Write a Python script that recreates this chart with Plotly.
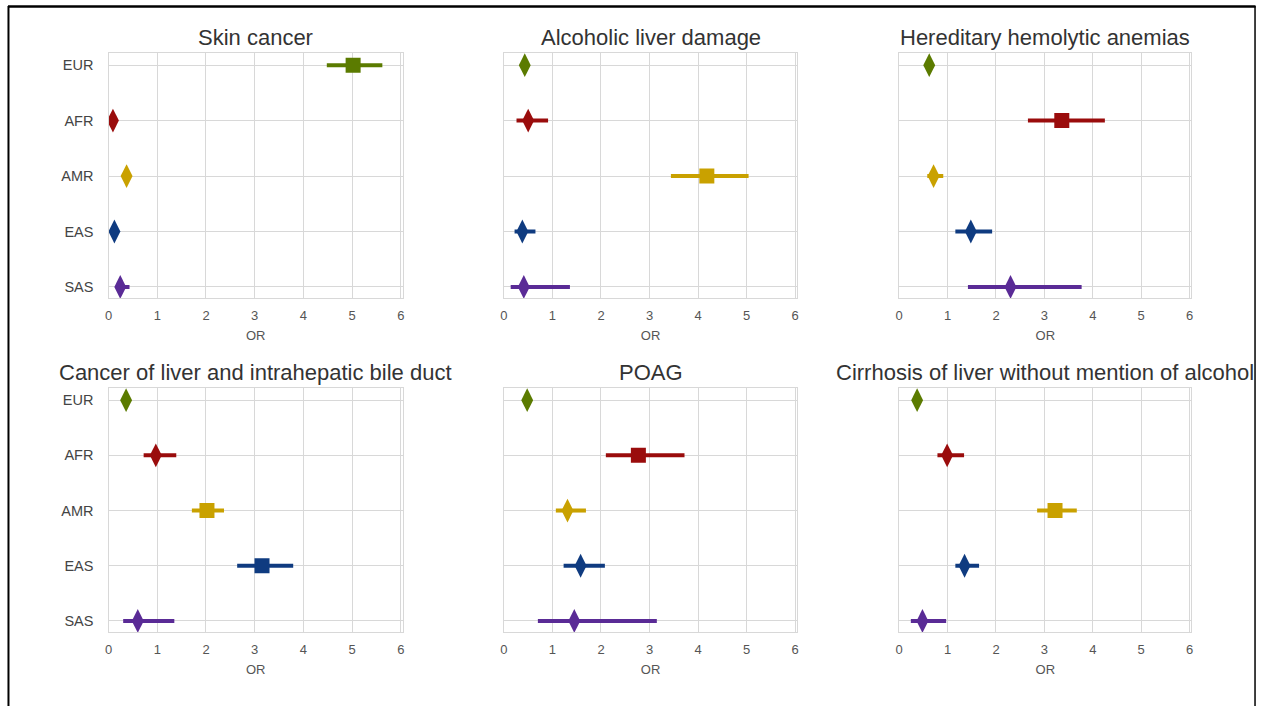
import plotly.graph_objects as go

populations = ["EUR", "AFR", "AMR", "EAS", "SAS"]
pop_colors = ["#5b7b00", "#9a0c0c", "#c9a100", "#0f3b80", "#5a2b96"]

titles = [
    "Skin cancer",
    "Alcoholic liver damage",
    "Hereditary hemolytic anemias",
    "Cancer of liver and intrahepatic bile duct",
    "POAG",
    "Cirrhosis of liver without mention of alcohol",
]

skin_or = [5.02, 0.09, 0.37, 0.12, 0.24]
skin_lo = [4.48, 0.07, 0.33, 0.09, 0.17]
skin_hi = [5.62, 0.12, 0.42, 0.16, 0.43]
skin_sig = [True, False, False, False, False]

alc_or = [0.43, 0.50, 4.18, 0.38, 0.41]
alc_lo = [0.40, 0.26, 3.44, 0.22, 0.14]
alc_hi = [0.46, 0.91, 5.04, 0.65, 1.36]
alc_sig = [False, False, True, False, False]

hem_or = [0.62, 3.36, 0.71, 1.48, 2.30]
hem_lo = [0.58, 2.66, 0.58, 1.16, 1.42]
hem_hi = [0.66, 4.25, 0.91, 1.92, 3.77]
hem_sig = [False, True, False, False, False]

livc_or = [0.36, 0.97, 2.02, 3.15, 0.60]
livc_lo = [0.32, 0.72, 1.71, 2.64, 0.30]
livc_hi = [0.40, 1.39, 2.37, 3.79, 1.35]
livc_sig = [False, False, True, True, False]

poag_or = [0.48, 2.77, 1.31, 1.58, 1.45]
poag_lo = [0.44, 2.10, 1.07, 1.23, 0.70]
poag_hi = [0.52, 3.72, 1.69, 2.08, 3.15]
poag_sig = [False, True, False, False, False]

cirr_or = [0.37, 0.99, 3.22, 1.35, 0.48]
cirr_lo = [0.33, 0.79, 2.85, 1.16, 0.24]
cirr_hi = [0.41, 1.34, 3.67, 1.65, 0.97]
cirr_sig = [False, False, True, False, False]

x_ticks = [0, 1, 2, 3, 4, 5, 6]

panels = [
    (skin_or, skin_lo, skin_hi, skin_sig),
    (alc_or, alc_lo, alc_hi, alc_sig),
    (hem_or, hem_lo, hem_hi, hem_sig),
    (livc_or, livc_lo, livc_hi, livc_sig),
    (poag_or, poag_lo, poag_hi, poag_sig),
    (cirr_or, cirr_lo, cirr_hi, cirr_sig),
]

W, H = 1261, 706
SX = 1.0 / 0.9944  # horizontal compensation about the page centre


def px(x):
    return (W / 2 + (x - W / 2) * SX) / W


col_px = [(108, 402), (503, 796), (898, 1190)]
row_px = [(53, 298), (388, 632)]

fig = go.Figure()
layout = dict(
    width=W, height=H, margin=dict(l=0, r=0, t=0, b=0),
    paper_bgcolor="white", plot_bgcolor="white", showlegend=False,
    font=dict(family="Liberation Sans, Arial, sans-serif", color="#444"),
)
annotations = []
grid = "#d8d8d8"

for i, (vals, lo, hi, sig) in enumerate(panels):
    r, c = divmod(i, 3)
    n = i + 1
    xa = "x" if n == 1 else f"x{n}"
    ya = "y" if n == 1 else f"y{n}"
    x0, x1 = col_px[c]
    y0, y1 = row_px[r]
    layout[f"xaxis{'' if n == 1 else n}"] = dict(
        domain=[px(x0), px(x1)], anchor=ya, range=[0, 6.04],
        tickvals=x_ticks, ticktext=[str(t) for t in x_ticks],
        showgrid=True, gridcolor=grid, gridwidth=1.4, zeroline=False,
        showline=True, linecolor=grid, linewidth=1.4, mirror=True,
        ticks="", tickfont=dict(size=13, color="#555"), ticklabelstandoff=5,
        title=dict(text="OR", font=dict(size=13, color="#555"), standoff=9),
        fixedrange=True,
    )
    layout[f"yaxis{'' if n == 1 else n}"] = dict(
        domain=[1 - y1 / H, 1 - y0 / H], anchor=xa, range=[4.2, -0.22],
        tickvals=list(range(len(populations))),
        ticktext=populations if c == 0 else [""] * len(populations),
        showticklabels=(c == 0),
        showgrid=True, gridcolor=grid, gridwidth=1.4, zeroline=False,
        showline=True, linecolor=grid, linewidth=1.4, mirror=True,
        ticks="", tickfont=dict(size=14.5, color="#444"), ticklabelstandoff=11,
        fixedrange=True,
    )
    annotations.append(dict(
        x=px((x0 + x1) / 2), y=1 - (y0 - 15) / H, xref="paper", yref="paper",
        text=titles[i], showarrow=False, xanchor="center", yanchor="middle",
        font=dict(size=22, color="#333"),
    ))
    for k, pop in enumerate(populations):
        fig.add_trace(go.Scatter(
            x=[vals[k]], y=[k], mode="markers", xaxis=xa, yaxis=ya,
            marker=dict(
                symbol="square" if sig[k] else "diamond-tall",
                size=15 if sig[k] else 17,
                color=pop_colors[k], line=dict(width=0),
            ),
            error_x=dict(
                type="data", symmetric=False,
                array=[hi[k] - vals[k]], arrayminus=[vals[k] - lo[k]],
                color=pop_colors[k], thickness=4, width=0,
            ),
            name=pop, hoverinfo="x+name",
        ))

layout["annotations"] = annotations
layout["shapes"] = [
    dict(type="line", xref="paper", yref="paper", x0=px(7.5), x1=px(1254),
         y0=1 - 6.5 / H, y1=1 - 6.5 / H, line=dict(color="black", width=2.5)),
    dict(type="line", xref="paper", yref="paper", x0=px(8), x1=px(8),
         y0=0, y1=1 - 6 / H, line=dict(color="black", width=2)),
    dict(type="line", xref="paper", yref="paper", x0=px(1253.5), x1=px(1253.5),
         y0=0, y1=1 - 6 / H, line=dict(color="black", width=1.5)),
]
fig.update_layout(**layout)
fig.write_html(
    "out.html",
    config={"displayModeBar": False},
    post_script="document.body.style.margin='0';document.body.style.overflow='hidden';",
)
